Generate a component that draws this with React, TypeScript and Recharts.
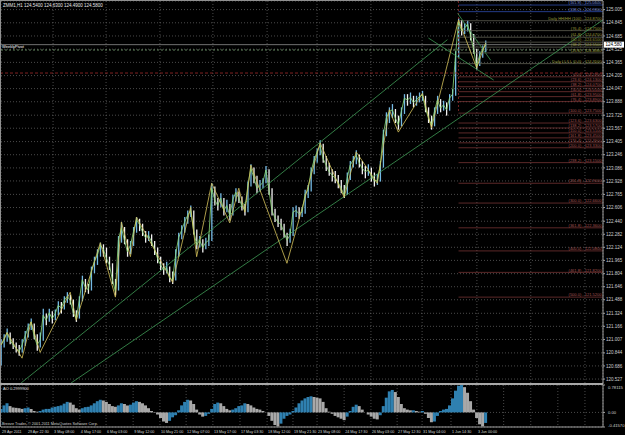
import React from "react";
import {
  ComposedChart,
  Bar,
  Line,
  Scatter,
  XAxis,
  YAxis,
  CartesianGrid,
  ReferenceLine,
  Cell,
} from "recharts";

// price bars (resampled)
const closes = [
  120.94, 121.0, 121.09, 121.0, 120.94, 120.9, 120.86, 120.94, 121.05, 121.15,
  121.22, 121.05, 120.94, 121.0, 121.3, 121.24, 121.33, 121.26, 121.32, 121.42,
  121.39, 121.48, 121.53, 121.48, 121.33, 121.26, 121.48, 121.73, 121.64, 121.61,
  121.83, 121.95, 122.03, 122.15, 122.1, 121.99, 121.91, 121.73, 121.59, 122.21,
  122.36, 122.21, 122.07, 122.15, 122.31, 122.46, 122.4, 122.31, 122.24, 122.27,
  122.19, 122.1, 121.99, 121.91, 121.85, 121.88, 121.75, 121.73, 122.03, 122.24,
  122.33, 122.43, 122.51, 122.57, 122.33, 122.15, 122.21, 122.12, 122.18, 122.21,
  122.84, 122.7, 122.63, 122.72, 122.57, 122.63, 122.51, 122.7, 122.79, 122.72,
  122.63, 122.57, 122.87, 123.08, 122.97, 122.84, 122.87, 122.91, 123.06, 122.82,
  122.57, 122.48, 122.43, 122.4, 122.31, 122.21, 122.27, 122.55, 122.57, 122.53,
  122.55, 122.76, 122.82, 123.04, 123.18, 123.28, 123.36, 123.2, 123.12, 123.04,
  123.0, 122.96, 122.91, 122.84, 122.76, 122.96, 123.12, 123.18, 123.24, 123.15,
  123.08, 123.04, 123.06, 122.99, 122.93, 122.93, 123.12, 123.49, 123.69, 123.77,
  123.79, 123.69, 123.61, 123.77, 123.93, 123.91, 123.94, 123.88, 123.91, 123.95,
  123.97, 123.81, 123.69, 123.61, 123.77, 123.91, 123.81, 123.85, 123.79, 123.93,
  123.98, 124.45, 124.86, 124.75, 124.78, 124.83, 124.69, 124.52, 124.32, 124.45,
  124.52, 124.58,
];

const lows = [
  120.69, 120.91, 120.98, 120.95, 120.89, 120.85, 120.81, 120.85, 120.93, 121.03,
  121.12, 121.01, 120.87, 120.91, 120.99, 121.18, 121.22, 121.2, 121.24, 121.3,
  121.32, 121.37, 121.45, 121.43, 121.28, 121.22, 121.26, 121.47, 121.58, 121.56,
  121.6, 121.81, 121.91, 122.01, 122.01, 121.93, 121.85, 121.68, 121.54, 121.6,
  122.18, 122.16, 122.01, 122.04, 122.14, 122.3, 122.32, 122.26, 122.18, 122.2,
  122.14, 122.03, 121.93, 121.85, 121.79, 121.81, 121.7, 121.68, 121.72, 122.01,
  122.22, 122.3, 122.41, 122.49, 122.28, 122.1, 122.12, 122.06, 122.1, 122.14,
  122.2, 122.63, 122.57, 122.61, 122.51, 122.55, 122.45, 122.51, 122.68, 122.66,
  122.57, 122.51, 122.55, 122.86, 122.9, 122.78, 122.8, 122.84, 122.9, 122.76,
  122.51, 122.43, 122.37, 122.33, 122.24, 122.14, 122.18, 122.26, 122.49, 122.47,
  122.49, 122.53, 122.72, 122.8, 123.01, 123.15, 123.24, 123.15, 123.05, 122.99,
  122.92, 122.9, 122.84, 122.78, 122.72, 122.76, 122.94, 123.09, 123.13, 123.09,
  123.01, 122.96, 122.99, 122.92, 122.86, 122.88, 122.92, 123.09, 123.47, 123.63,
  123.69, 123.63, 123.55, 123.59, 123.74, 123.84, 123.86, 123.82, 123.84, 123.88,
  123.9, 123.76, 123.63, 123.55, 123.59, 123.74, 123.76, 123.78, 123.72, 123.78,
  123.9, 123.96, 124.42, 124.69, 124.71, 124.74, 124.63, 124.47, 124.28, 124.32,
  124.42, 124.49,
];

const highs = [
  121.01, 121.07, 121.14, 121.09, 121.02, 120.97, 120.94, 121.01, 121.11, 121.2,
  121.26, 121.2, 121.07, 121.09, 121.38, 121.32, 121.38, 121.35, 121.37, 121.47,
  121.46, 121.53, 121.58, 121.55, 121.49, 121.36, 121.53, 121.78, 121.74, 121.68,
  121.89, 122.01, 122.1, 122.18, 122.16, 122.12, 122.01, 121.93, 121.74, 122.26,
  122.43, 122.37, 122.22, 122.2, 122.37, 122.49, 122.47, 122.41, 122.32, 122.32,
  122.28, 122.2, 122.12, 122.01, 121.93, 121.95, 121.89, 121.83, 122.1, 122.3,
  122.39, 122.49, 122.57, 122.63, 122.57, 122.34, 122.26, 122.22, 122.24, 122.28,
  122.9, 122.86, 122.72, 122.78, 122.72, 122.7, 122.65, 122.76, 122.84, 122.8,
  122.74, 122.65, 122.92, 123.13, 123.09, 122.99, 122.94, 122.96, 123.11, 123.07,
  122.84, 122.59, 122.51, 122.47, 122.41, 122.3, 122.35, 122.61, 122.63, 122.61,
  122.61, 122.82, 122.88, 123.09, 123.23, 123.32, 123.42, 123.38, 123.23, 123.15,
  123.07, 123.05, 123.0, 122.94, 122.88, 123.03, 123.17, 123.23, 123.3, 123.25,
  123.17, 123.11, 123.13, 123.09, 123.03, 123.01, 123.17, 123.55, 123.76, 123.82,
  123.86, 123.8, 123.72, 123.82, 123.98, 123.98, 124.0, 123.96, 123.96, 124.0,
  124.02, 123.96, 123.82, 123.72, 123.82, 123.96, 123.92, 123.9, 123.88, 123.98,
  124.04, 124.5, 124.9, 124.88, 124.84, 124.87, 124.84, 124.71, 124.53, 124.5,
  124.57, 124.63,
];

// Awesome Oscillator
const aoValues = [
  0.1, 0.2, 0.26, 0.18, 0.14, 0.13, 0.12, 0.1, 0.12, 0.14,
  0.1, 0.04, 0.02, 0.04, 0.08, 0.1, 0.1, 0.14, 0.16, 0.18,
  0.2, 0.25, 0.3, 0.28, 0.22, 0.12, 0.08, 0.12, 0.15, 0.16,
  0.2, 0.26, 0.32, 0.36, 0.34, 0.3, 0.24, 0.18, 0.16, 0.2,
  0.26, 0.24, 0.2, 0.22, 0.28, 0.32, 0.3, 0.26, 0.2, 0.12,
  0.04, 0.01, -0.06, -0.16, -0.26, -0.3, -0.24, -0.14, -0.08, 0.06,
  0.2, 0.3, 0.36, 0.34, 0.24, 0.08, -0.06, -0.12, -0.1, -0.04,
  0.1, 0.24, 0.28, 0.26, 0.18, 0.1, 0.06, 0.08, 0.12, 0.18,
  0.2, 0.26, 0.24, 0.2, 0.14, 0.1, 0.08, 0.04, 0.0, -0.1,
  -0.24, -0.36, -0.4, -0.32, -0.18, -0.1, -0.06, 0.04, 0.14, 0.26,
  0.34, 0.4, 0.44, 0.46, 0.44, 0.42, 0.4, 0.3, 0.12, 0.02,
  -0.04, -0.1, -0.14, -0.18, -0.22, -0.12, 0.04, 0.16, 0.22, 0.18,
  0.08, 0.0, -0.06, -0.12, -0.18, -0.2, -0.08, 0.18, 0.42, 0.6,
  0.64, 0.58, 0.44, 0.24, 0.12, 0.08, 0.06, 0.06, 0.04, 0.02,
  0.04, -0.04, -0.16, -0.28, -0.26, -0.1, 0.04, 0.08, 0.1, 0.2,
  0.4, 0.62, 0.76, 0.78, 0.72, 0.56, 0.32, 0.08, -0.16, -0.34,
  -0.4, -0.3,
];

const zigzagTimes = [0, 2, 7, 10, 13, 23, 25, 33, 38, 40, 43, 45, 57, 63, 65, 70, 76, 79, 81, 83, 95, 106, 114, 118, 125, 129, 132, 140, 143, 152, 158, 161];
const zigzagPrices = [120.94, 121.09, 120.78, 121.22, 120.85, 121.58, 121.24, 122.18, 121.52, 122.43, 122.01, 122.49, 121.7, 122.61, 122.01, 122.9, 122.42, 122.84, 122.55, 123.12, 121.93, 123.39, 122.73, 123.28, 122.9, 123.79, 123.52, 123.99, 123.57, 124.88, 124.3, 124.6];

// channel / trend lines: [start, end] as [time, price]
const trendLines = [
  [[6.7, 120.48], [148.3, 124.64]],
  [[23.3, 120.48], [200, 124.88]],
  [[142, 124.66], [163.7, 124.15]],
  [[151.7, 124.96], [162.7, 124.39]],
];

const pivotLevel = 124.515;
const redLevel = 124.236;
const fibStart = 152;

const fibNames = [
  "(161.8)", "(138.2)",
  "Daily HH/HH (100)", "(76.4)", "(61.8)", "(50.0)", "(38.2)", "(23.6)", "Daily LL/LL (0.0)",
  "(0.0)", "(23.6)", "(38.2)", "(50.0)", "(61.8)", "(76.4)", "(100.0)", "(123.6)", "(138.2)",
  "(150.0)", "(161.8)", "(176.4)", "(200.0)", "(238.2)", "(261.8)", "(300.0)", "(361.8)",
  "(400.0)", "(461.8)", "(500.0)",
];
const fibPrices = [
  125.06, 124.98,
  124.87, 124.75, 124.67, 124.61, 124.55, 124.48, 124.35,
  124.19, 124.13, 124.07, 124.01, 123.95, 123.89, 123.75, 123.63, 123.57,
  123.51, 123.45, 123.39, 123.33, 123.15, 122.9, 122.66, 122.36,
  122.08, 121.82, 121.52,
];
const fibGroups = [
  "blue", "blue",
  "olive", "olive", "olive", "olive", "olive", "olive", "olive",
  "red", "red", "red", "red", "red", "red", "red", "red", "red",
  "red", "red", "red", "red", "red", "red", "red", "red",
  "red", "red", "red",
];

const priceTicks = [
  120.527, 120.686, 120.844, 121.007, 121.166, 121.324, 121.488, 121.646, 121.804, 121.965,
  122.124, 122.282, 122.44, 122.606, 122.765, 122.928, 123.086, 123.246, 123.405, 123.567,
  123.725, 123.888, 124.047, 124.205, 124.365, 124.525, 124.685, 124.845, 125.005,
];

const dateTimes = [0, 8.6, 17.3, 26.2, 34.9, 43.9, 52.8, 61.5, 70.4, 79.4, 88.4, 97.0, 105.0, 114.0, 122.9, 131.6, 139.9, 149.5, 158.1];
const dateLabels = [
  "29 Apr 2011", "29 Apr 22:30", "3 May 08:00", "4 May 17:00", "6 May 03:00", "9 May 12:00",
  "10 May 21:00", "12 May 07:00", "13 May 17:00", "17 May 03:30", "18 May 12:00", "19 May 21:30",
  "23 May 08:00", "24 May 17:30", "26 May 03:00", "27 May 12:30", "31 May 04:00", "1 Jun 14:30",
  "3 Jun 00:00",
];
const futureGridTimes = [167, 176, 185, 194];

const aoTicks = [-0.4157, 0, 0.78115];
const aoTickLabels = ["-0.41570", "0.00", "0.78115"];

const FONT = "Liberation Sans, Arial, sans-serif";
const GRID = "#6a6a6a";
const AXIS = "#a0a0a0";

const bars = closes.map((close, i) => ({
  t: i,
  close,
  range: [lows[i], highs[i]],
  ao: aoValues[i],
}));
const zigzag = zigzagTimes.map((t, i) => ({ t, p: zigzagPrices[i] }));
const fibColor = { blue: "#2c4aa8", olive: "#5e5e52", red: "#743232" };
const fibText = { blue: "#6f86d8", olive: "#9a9a3a", red: "#a85555" };
const fibRows = fibPrices.map((p, i) => ({
  t: 199.5,
  p,
  label: `${fibNames[i]} - ${p.toFixed(4)}`,
  color: fibText[fibGroups[i]],
}));
const gridTimes = [...dateTimes, ...futureGridTimes];
const lastClose = closes[closes.length - 1];

const FibLabel = (props: any) => (
  <text
    x={props.cx}
    y={props.cy - 0.8}
    textAnchor="end"
    fontSize={4}
    fontFamily={FONT}
    fill={props.payload.color}
  >
    {props.payload.label}
  </text>
);

const PriceTag = (props: any) => {
  const vb = props.viewBox || {};
  const x = vb.x + vb.width + 1;
  return (
    <g>
      <rect x={x} y={vb.y - 3} width={20} height={6} fill="#ffffff" />
      <text x={x + 1.5} y={vb.y + 1.6} fontSize={4.5} fontFamily={FONT} fill="#000">
        {lastClose.toFixed(3)}
      </text>
    </g>
  );
};

// chart-local y: the AO plot ends at 43, date labels sit in the 8px strip below it
const DateTick = (props: any) => {
  const { x, payload } = props;
  const idx = dateTimes.findIndex((d) => Math.abs(d - payload.value) < 1e-6);
  if (idx < 0) return null;
  return (
    <text x={x + 1} y={48.5} fontSize={3.7} fontFamily={FONT} fill="#d4d4d4">
      {dateLabels[idx]}
    </text>
  );
};

const AoTick = (props: any) => {
  const { x, y, payload } = props;
  const idx = aoTicks.indexOf(payload.value);
  const dy = idx === 2 ? 3.5 : idx === 0 ? 0 : 1.5;
  return (
    <text x={x + 1} y={y + dy} fontSize={4.2} fontFamily={FONT} fill="#d0d0d0">
      {aoTickLabels[idx]}
    </text>
  );
};

export default function App() {
  return (
    <div
      style={{
        position: "absolute",
        left: 0,
        top: 0,
        width: 625,
        height: 435,
        background: "#000",
        overflow: "hidden",
      }}
    >
      <div style={{ position: "absolute", left: 0, top: 0 }}>
        <ComposedChart width={625} height={384} data={bars} margin={{ top: 1, right: 0, left: 1, bottom: 0 }}>
          <CartesianGrid stroke={GRID} strokeDasharray="1 2" strokeWidth={0.7} />
          <XAxis type="number" dataKey="t" domain={[0, 200]} ticks={gridTimes} hide allowDataOverflow />
          <YAxis
            orientation="right"
            width={22}
            domain={[120.467, 125.109]}
            ticks={priceTicks}
            interval={0}
            allowDataOverflow
            tickSize={2}
            tickMargin={1}
            stroke={AXIS}
            tick={{ fontSize: 4.5, fill: "#cfcfcf", fontFamily: FONT }}
            tickFormatter={(v: number) => v.toFixed(3)}
          />
          {fibPrices.map((p, i) => (
            <ReferenceLine
              key={"fib" + i}
              segment={[{ x: fibStart, y: p }, { x: 200, y: p }]}
              stroke={fibColor[fibGroups[i]]}
              strokeWidth={0.8}
            />
          ))}
          <ReferenceLine
            segment={[{ x: fibStart, y: 125.109 }, { x: fibStart, y: 123.75 }]}
            stroke="#8b2a2a"
            strokeDasharray="2 2"
            strokeWidth={0.8}
          />
          <ReferenceLine y={redLevel} stroke="#a02a2a" strokeDasharray="3 2" strokeWidth={0.8} />
          <ReferenceLine y={pivotLevel} stroke="#7fa878" strokeDasharray="2 2" strokeWidth={0.8} />
          <ReferenceLine y={lastClose} stroke="#8c8c8c" strokeWidth={0.8} label={<PriceTag />} />
          {trendLines.map((seg, i) => (
            <ReferenceLine
              key={"tl" + i}
              segment={[{ x: seg[0][0], y: seg[0][1] }, { x: seg[1][0], y: seg[1][1] }]}
              stroke="#3f9a55"
              strokeWidth={0.8}
            />
          ))}
          <Bar dataKey="range" barSize={1.3} isAnimationActive={false}>
            {bars.map((b, i) => (
              <Cell key={i} fill={i > 0 && closes[i] < closes[i - 1] ? "#f2f2f2" : "#74b9e4"} />
            ))}
          </Bar>
          <Line dataKey="close" stroke="#8fe07a" strokeWidth={0.8} dot={false} isAnimationActive={false} />
          <Line
            data={zigzag}
            dataKey="p"
            stroke="#d6c35c"
            strokeWidth={0.8}
            dot={false}
            isAnimationActive={false}
          />
          <Scatter data={fibRows} dataKey="p" shape={<FibLabel />} isAnimationActive={false} />
        </ComposedChart>
      </div>

      <div style={{ position: "absolute", left: 0, top: 384 }}>
        <ComposedChart width={625} height={51} data={bars} margin={{ top: 1, right: 0, left: 1, bottom: 0 }}>
          <CartesianGrid stroke={GRID} strokeDasharray="1 2" strokeWidth={0.7} />
          <XAxis
            type="number"
            dataKey="t"
            domain={[0, 200]}
            ticks={gridTimes}
            interval={0}
            height={8}
            tickLine={false}
            tickSize={0}
            tickMargin={0}
            stroke={AXIS}
            tick={<DateTick />}
          />
          <YAxis
            orientation="right"
            width={22}
            domain={[-0.4157, 0.78115]}
            ticks={aoTicks}
            interval={0}
            allowDataOverflow
            tickSize={2}
            stroke={AXIS}
            tick={<AoTick />}
          />
          <Bar dataKey="ao" barSize={3} isAnimationActive={false}>
            {bars.map((b, i) => (
              <Cell key={i} fill={i > 0 && aoValues[i] < aoValues[i - 1] ? "#a8a8a8" : "#2f80b0"} />
            ))}
          </Bar>
        </ComposedChart>
      </div>

      <svg width={625} height={435} style={{ position: "absolute", left: 0, top: 0, pointerEvents: "none" }}>
        <line x1={0.5} y1={0} x2={0.5} y2={427} stroke="#909090" />
        <line x1={0} y1={0.5} x2={603} y2={0.5} stroke="#909090" />
        <rect x={0} y={383} width={603} height={2} fill="#a8a8a8" />
        <text x={3} y={6.5} fontSize={4.5} fontFamily={FONT} fill="#e6e6e6">
          ZMM1,H1  124.5400 124.6300 124.4900 124.5800
        </text>
        <text x={2} y={47.5} fontSize={4} fontFamily={FONT} fill="#ffffff">
          WeeklyPivot
        </text>
        <text x={3} y={390} fontSize={4} fontFamily={FONT} fill="#e0e0e0">
          AO 0.2999900
        </text>
        <text x={2} y={424.5} fontSize={3.8} fontFamily={FONT} fill="#d0d0d0">
          Breeze Trader, © 2001-2011 MetaQuotes Software Corp.
        </text>
      </svg>
    </div>
  );
}
